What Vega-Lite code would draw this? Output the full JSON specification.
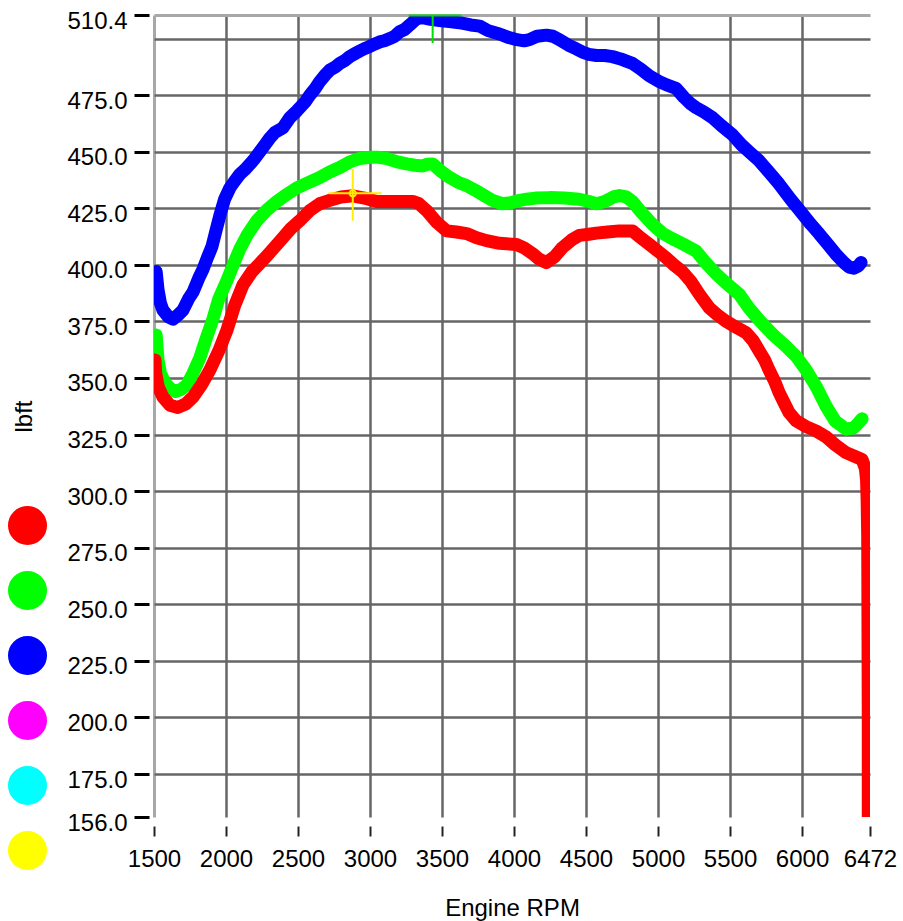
{
  "$schema": "https://vega.github.io/schema/vega-lite/v6.json",
  "width": 716,
  "height": 802,
  "autosize": {"type": "none"},
  "padding": {"left": 154, "top": 15, "right": 33, "bottom": 104},
  "background": "white",
  "config": {
    "view": {"stroke": null},
    "font": "Liberation Sans"
  },
  "datasets": {
    "curves": [
      {"run": "3", "rpm": 1515, "lbft": 397}, {"run": "3", "rpm": 1528, "lbft": 389}, {"run": "3", "rpm": 1545, "lbft": 383}, {"run": "3", "rpm": 1562, "lbft": 380}, {"run": "3", "rpm": 1600, "lbft": 377}, {"run": "3", "rpm": 1632, "lbft": 376}, {"run": "3", "rpm": 1670, "lbft": 378}, {"run": "3", "rpm": 1701, "lbft": 380}, {"run": "3", "rpm": 1740, "lbft": 385}, {"run": "3", "rpm": 1771, "lbft": 388}, {"run": "3", "rpm": 1810, "lbft": 394}, {"run": "3", "rpm": 1840, "lbft": 398}, {"run": "3", "rpm": 1870, "lbft": 403}, {"run": "3", "rpm": 1902, "lbft": 408}, {"run": "3", "rpm": 1930, "lbft": 415}, {"run": "3", "rpm": 1958, "lbft": 422}, {"run": "3", "rpm": 1990, "lbft": 429}, {"run": "3", "rpm": 2027, "lbft": 434}, {"run": "3", "rpm": 2060, "lbft": 437}, {"run": "3", "rpm": 2096, "lbft": 440}, {"run": "3", "rpm": 2130, "lbft": 442}, {"run": "3", "rpm": 2166, "lbft": 444.5}, {"run": "3", "rpm": 2200, "lbft": 447}, {"run": "3", "rpm": 2235, "lbft": 450}, {"run": "3", "rpm": 2270, "lbft": 453}, {"run": "3", "rpm": 2304, "lbft": 456}, {"run": "3", "rpm": 2340, "lbft": 458.5}, {"run": "3", "rpm": 2395, "lbft": 460.5}, {"run": "3", "rpm": 2443, "lbft": 465}, {"run": "3", "rpm": 2492, "lbft": 468}, {"run": "3", "rpm": 2550, "lbft": 472}, {"run": "3", "rpm": 2582, "lbft": 475}, {"run": "3", "rpm": 2620, "lbft": 478}, {"run": "3", "rpm": 2651, "lbft": 481}, {"run": "3", "rpm": 2690, "lbft": 484}, {"run": "3", "rpm": 2720, "lbft": 486}, {"run": "3", "rpm": 2760, "lbft": 487.5}, {"run": "3", "rpm": 2790, "lbft": 489}, {"run": "3", "rpm": 2830, "lbft": 490.5}, {"run": "3", "rpm": 2859, "lbft": 492}, {"run": "3", "rpm": 2900, "lbft": 493.5}, {"run": "3", "rpm": 2929, "lbft": 494.5}, {"run": "3", "rpm": 2960, "lbft": 495.5}, {"run": "3", "rpm": 2998, "lbft": 496.5}, {"run": "3", "rpm": 3030, "lbft": 497.5}, {"run": "3", "rpm": 3067, "lbft": 498.5}, {"run": "3", "rpm": 3100, "lbft": 499}, {"run": "3", "rpm": 3137, "lbft": 500}, {"run": "3", "rpm": 3170, "lbft": 501}, {"run": "3", "rpm": 3206, "lbft": 503}, {"run": "3", "rpm": 3240, "lbft": 504}, {"run": "3", "rpm": 3276, "lbft": 506}, {"run": "3", "rpm": 3310, "lbft": 508}, {"run": "3", "rpm": 3345, "lbft": 509.5}, {"run": "3", "rpm": 3380, "lbft": 509}, {"run": "3", "rpm": 3420, "lbft": 508.5}, {"run": "3", "rpm": 3483, "lbft": 508}, {"run": "3", "rpm": 3550, "lbft": 507.5}, {"run": "3", "rpm": 3620, "lbft": 507}, {"run": "3", "rpm": 3700, "lbft": 506}, {"run": "3", "rpm": 3761, "lbft": 505.5}, {"run": "3", "rpm": 3820, "lbft": 503.5}, {"run": "3", "rpm": 3899, "lbft": 502}, {"run": "3", "rpm": 3960, "lbft": 500.5}, {"run": "3", "rpm": 4020, "lbft": 499.5}, {"run": "3", "rpm": 4070, "lbft": 499}, {"run": "3", "rpm": 4107, "lbft": 499.5}, {"run": "3", "rpm": 4160, "lbft": 501}, {"run": "3", "rpm": 4225, "lbft": 501.5}, {"run": "3", "rpm": 4270, "lbft": 501}, {"run": "3", "rpm": 4316, "lbft": 499.5}, {"run": "3", "rpm": 4380, "lbft": 497}, {"run": "3", "rpm": 4430, "lbft": 495.5}, {"run": "3", "rpm": 4475, "lbft": 494}, {"run": "3", "rpm": 4520, "lbft": 493}, {"run": "3", "rpm": 4572, "lbft": 492.5}, {"run": "3", "rpm": 4630, "lbft": 492.5}, {"run": "3", "rpm": 4683, "lbft": 492}, {"run": "3", "rpm": 4740, "lbft": 491}, {"run": "3", "rpm": 4780, "lbft": 490}, {"run": "3", "rpm": 4822, "lbft": 489}, {"run": "3", "rpm": 4880, "lbft": 486.5}, {"run": "3", "rpm": 4940, "lbft": 483.5}, {"run": "3", "rpm": 5009, "lbft": 481}, {"run": "3", "rpm": 5060, "lbft": 479.5}, {"run": "3", "rpm": 5125, "lbft": 478}, {"run": "3", "rpm": 5180, "lbft": 474}, {"run": "3", "rpm": 5230, "lbft": 471}, {"run": "3", "rpm": 5264, "lbft": 469.5}, {"run": "3", "rpm": 5320, "lbft": 467.5}, {"run": "3", "rpm": 5379, "lbft": 465}, {"run": "3", "rpm": 5440, "lbft": 461.5}, {"run": "3", "rpm": 5517, "lbft": 457.5}, {"run": "3", "rpm": 5580, "lbft": 453}, {"run": "3", "rpm": 5640, "lbft": 449.5}, {"run": "3", "rpm": 5702, "lbft": 446}, {"run": "3", "rpm": 5770, "lbft": 441}, {"run": "3", "rpm": 5841, "lbft": 435.7}, {"run": "3", "rpm": 5920, "lbft": 429}, {"run": "3", "rpm": 6003, "lbft": 422.5}, {"run": "3", "rpm": 6060, "lbft": 418}, {"run": "3", "rpm": 6119, "lbft": 413.7}, {"run": "3", "rpm": 6180, "lbft": 409}, {"run": "3", "rpm": 6234, "lbft": 404.8}, {"run": "3", "rpm": 6290, "lbft": 401}, {"run": "3", "rpm": 6327, "lbft": 399}, {"run": "3", "rpm": 6360, "lbft": 398.5}, {"run": "3", "rpm": 6390, "lbft": 399.5}, {"run": "3", "rpm": 6410, "lbft": 401},
      {"run": "2", "rpm": 1515, "lbft": 369}, {"run": "2", "rpm": 1522, "lbft": 363}, {"run": "2", "rpm": 1528, "lbft": 358}, {"run": "2", "rpm": 1545, "lbft": 352}, {"run": "2", "rpm": 1576, "lbft": 348}, {"run": "2", "rpm": 1610, "lbft": 345.5}, {"run": "2", "rpm": 1646, "lbft": 344}, {"run": "2", "rpm": 1690, "lbft": 345}, {"run": "2", "rpm": 1729, "lbft": 347}, {"run": "2", "rpm": 1770, "lbft": 352}, {"run": "2", "rpm": 1819, "lbft": 359}, {"run": "2", "rpm": 1860, "lbft": 367}, {"run": "2", "rpm": 1909, "lbft": 376}, {"run": "2", "rpm": 1950, "lbft": 385}, {"run": "2", "rpm": 2006, "lbft": 393}, {"run": "2", "rpm": 2050, "lbft": 400}, {"run": "2", "rpm": 2096, "lbft": 407}, {"run": "2", "rpm": 2150, "lbft": 413.5}, {"run": "2", "rpm": 2214, "lbft": 419.5}, {"run": "2", "rpm": 2280, "lbft": 424}, {"run": "2", "rpm": 2353, "lbft": 428}, {"run": "2", "rpm": 2420, "lbft": 431}, {"run": "2", "rpm": 2492, "lbft": 434}, {"run": "2", "rpm": 2560, "lbft": 436}, {"run": "2", "rpm": 2651, "lbft": 438.6}, {"run": "2", "rpm": 2720, "lbft": 441}, {"run": "2", "rpm": 2790, "lbft": 443}, {"run": "2", "rpm": 2860, "lbft": 445.5}, {"run": "2", "rpm": 2929, "lbft": 447}, {"run": "2", "rpm": 3000, "lbft": 447.5}, {"run": "2", "rpm": 3060, "lbft": 447.5}, {"run": "2", "rpm": 3116, "lbft": 447}, {"run": "2", "rpm": 3190, "lbft": 445.5}, {"run": "2", "rpm": 3255, "lbft": 444.6}, {"run": "2", "rpm": 3310, "lbft": 444}, {"run": "2", "rpm": 3366, "lbft": 443.7}, {"run": "2", "rpm": 3400, "lbft": 444.5}, {"run": "2", "rpm": 3435, "lbft": 444.6}, {"run": "2", "rpm": 3490, "lbft": 441.5}, {"run": "2", "rpm": 3553, "lbft": 438.6}, {"run": "2", "rpm": 3610, "lbft": 436.5}, {"run": "2", "rpm": 3671, "lbft": 435}, {"run": "2", "rpm": 3730, "lbft": 433}, {"run": "2", "rpm": 3782, "lbft": 431}, {"run": "2", "rpm": 3850, "lbft": 428.5}, {"run": "2", "rpm": 3920, "lbft": 427}, {"run": "2", "rpm": 3980, "lbft": 427.5}, {"run": "2", "rpm": 4040, "lbft": 428.5}, {"run": "2", "rpm": 4087, "lbft": 429}, {"run": "2", "rpm": 4150, "lbft": 429.5}, {"run": "2", "rpm": 4246, "lbft": 429.7}, {"run": "2", "rpm": 4350, "lbft": 429.5}, {"run": "2", "rpm": 4454, "lbft": 429}, {"run": "2", "rpm": 4520, "lbft": 428}, {"run": "2", "rpm": 4572, "lbft": 427}, {"run": "2", "rpm": 4630, "lbft": 428}, {"run": "2", "rpm": 4690, "lbft": 430}, {"run": "2", "rpm": 4732, "lbft": 430.6}, {"run": "2", "rpm": 4780, "lbft": 430}, {"run": "2", "rpm": 4822, "lbft": 428}, {"run": "2", "rpm": 4880, "lbft": 423.5}, {"run": "2", "rpm": 4960, "lbft": 418}, {"run": "2", "rpm": 5030, "lbft": 414}, {"run": "2", "rpm": 5099, "lbft": 411.6}, {"run": "2", "rpm": 5180, "lbft": 409}, {"run": "2", "rpm": 5266, "lbft": 406}, {"run": "2", "rpm": 5330, "lbft": 401}, {"run": "2", "rpm": 5404, "lbft": 396}, {"run": "2", "rpm": 5480, "lbft": 391.5}, {"run": "2", "rpm": 5564, "lbft": 387}, {"run": "2", "rpm": 5630, "lbft": 381}, {"run": "2", "rpm": 5702, "lbft": 375.6}, {"run": "2", "rpm": 5800, "lbft": 369}, {"run": "2", "rpm": 5889, "lbft": 364}, {"run": "2", "rpm": 5960, "lbft": 359.5}, {"run": "2", "rpm": 6028, "lbft": 353.6}, {"run": "2", "rpm": 6100, "lbft": 346}, {"run": "2", "rpm": 6167, "lbft": 337.5}, {"run": "2", "rpm": 6230, "lbft": 331}, {"run": "2", "rpm": 6306, "lbft": 327.4}, {"run": "2", "rpm": 6360, "lbft": 328}, {"run": "2", "rpm": 6390, "lbft": 330}, {"run": "2", "rpm": 6417, "lbft": 332},
      {"run": "1", "rpm": 1507, "lbft": 358}, {"run": "1", "rpm": 1512, "lbft": 352}, {"run": "1", "rpm": 1530, "lbft": 346}, {"run": "1", "rpm": 1562, "lbft": 341.6}, {"run": "1", "rpm": 1610, "lbft": 338}, {"run": "1", "rpm": 1666, "lbft": 337}, {"run": "1", "rpm": 1720, "lbft": 338.5}, {"run": "1", "rpm": 1771, "lbft": 341.6}, {"run": "1", "rpm": 1830, "lbft": 347}, {"run": "1", "rpm": 1888, "lbft": 353.5}, {"run": "1", "rpm": 1950, "lbft": 362}, {"run": "1", "rpm": 2006, "lbft": 371}, {"run": "1", "rpm": 2060, "lbft": 382}, {"run": "1", "rpm": 2117, "lbft": 391}, {"run": "1", "rpm": 2180, "lbft": 397}, {"run": "1", "rpm": 2235, "lbft": 400.6}, {"run": "1", "rpm": 2284, "lbft": 404}, {"run": "1", "rpm": 2340, "lbft": 408}, {"run": "1", "rpm": 2395, "lbft": 412}, {"run": "1", "rpm": 2450, "lbft": 416}, {"run": "1", "rpm": 2512, "lbft": 419.5}, {"run": "1", "rpm": 2582, "lbft": 424}, {"run": "1", "rpm": 2650, "lbft": 427}, {"run": "1", "rpm": 2720, "lbft": 428.5}, {"run": "1", "rpm": 2800, "lbft": 430}, {"run": "1", "rpm": 2880, "lbft": 430.5}, {"run": "1", "rpm": 2960, "lbft": 429.5}, {"run": "1", "rpm": 3046, "lbft": 428}, {"run": "1", "rpm": 3150, "lbft": 428}, {"run": "1", "rpm": 3296, "lbft": 428}, {"run": "1", "rpm": 3340, "lbft": 427}, {"run": "1", "rpm": 3393, "lbft": 424}, {"run": "1", "rpm": 3460, "lbft": 419}, {"run": "1", "rpm": 3532, "lbft": 415}, {"run": "1", "rpm": 3600, "lbft": 414.5}, {"run": "1", "rpm": 3671, "lbft": 413.8}, {"run": "1", "rpm": 3740, "lbft": 412}, {"run": "1", "rpm": 3809, "lbft": 410.7}, {"run": "1", "rpm": 3900, "lbft": 409.5}, {"run": "1", "rpm": 4017, "lbft": 409}, {"run": "1", "rpm": 4070, "lbft": 407.5}, {"run": "1", "rpm": 4128, "lbft": 405}, {"run": "1", "rpm": 4175, "lbft": 402.5}, {"run": "1", "rpm": 4225, "lbft": 401}, {"run": "1", "rpm": 4280, "lbft": 403.5}, {"run": "1", "rpm": 4336, "lbft": 407.6}, {"run": "1", "rpm": 4400, "lbft": 411}, {"run": "1", "rpm": 4454, "lbft": 413}, {"run": "1", "rpm": 4520, "lbft": 413.5}, {"run": "1", "rpm": 4572, "lbft": 414}, {"run": "1", "rpm": 4650, "lbft": 414.5}, {"run": "1", "rpm": 4732, "lbft": 415}, {"run": "1", "rpm": 4780, "lbft": 415}, {"run": "1", "rpm": 4822, "lbft": 415}, {"run": "1", "rpm": 4880, "lbft": 412}, {"run": "1", "rpm": 4940, "lbft": 409}, {"run": "1", "rpm": 5000, "lbft": 406}, {"run": "1", "rpm": 5058, "lbft": 403}, {"run": "1", "rpm": 5110, "lbft": 400}, {"run": "1", "rpm": 5169, "lbft": 397}, {"run": "1", "rpm": 5230, "lbft": 392.5}, {"run": "1", "rpm": 5287, "lbft": 387}, {"run": "1", "rpm": 5356, "lbft": 381}, {"run": "1", "rpm": 5410, "lbft": 378}, {"run": "1", "rpm": 5474, "lbft": 375}, {"run": "1", "rpm": 5540, "lbft": 372.5}, {"run": "1", "rpm": 5612, "lbft": 370}, {"run": "1", "rpm": 5660, "lbft": 366.5}, {"run": "1", "rpm": 5702, "lbft": 362}, {"run": "1", "rpm": 5740, "lbft": 358}, {"run": "1", "rpm": 5771, "lbft": 353.6}, {"run": "1", "rpm": 5810, "lbft": 348.5}, {"run": "1", "rpm": 5841, "lbft": 343.5}, {"run": "1", "rpm": 5880, "lbft": 338.5}, {"run": "1", "rpm": 5910, "lbft": 334.7}, {"run": "1", "rpm": 5960, "lbft": 331}, {"run": "1", "rpm": 6028, "lbft": 328.5}, {"run": "1", "rpm": 6100, "lbft": 326.5}, {"run": "1", "rpm": 6167, "lbft": 324}, {"run": "1", "rpm": 6230, "lbft": 320.5}, {"run": "1", "rpm": 6306, "lbft": 317}, {"run": "1", "rpm": 6360, "lbft": 315.5}, {"run": "1", "rpm": 6417, "lbft": 314}, {"run": "1", "rpm": 6440, "lbft": 310}, {"run": "1", "rpm": 6448, "lbft": 305}, {"run": "1", "rpm": 6452, "lbft": 296.5}, {"run": "1", "rpm": 6456, "lbft": 280}, {"run": "1", "rpm": 6458, "lbft": 240}, {"run": "1", "rpm": 6460, "lbft": 200}, {"run": "1", "rpm": 6460, "lbft": 150}
    ],
    "yellowCursor": [{"rpm": 2880, "lbft": 431.6, "rpmLo": 2713, "rpmHi": 3081, "lbftLo": 419.5, "lbftHi": 442.4}],
    "greenCursor": [{"rpm": 3435, "lbft": 510.2, "rpmLo": 3268, "rpmHi": 3636, "lbftLo": 498, "lbftHi": 510.4}]
  },
  "layer": [
    {
      "data": {"name": "curves"},
      "mark": {"type": "line", "strokeWidth": 13, "strokeCap": "round", "strokeJoin": "round", "clip": true},
      "encoding": {
        "x": {
          "field": "rpm", "type": "quantitative",
          "scale": {"domain": [1500, 6472], "nice": false, "zero": false},
          "axis": {
            "values": [1500, 2000, 2500, 3000, 3500, 4000, 4500, 5000, 5500, 6000, 6472],
            "format": "d",
            "grid": true,
            "gridColor": {"condition": {"test": "datum.value == 1500", "value": "#a8a8a8"}, "value": "#666666"},
            "gridWidth": {"condition": {"test": "datum.value == 1500", "value": 3}, "value": 2.5},
            "gridOpacity": {"condition": {"test": "datum.value == 6472", "value": 0}, "value": 1},
            "domain": false,
            "offset": 9,
            "tickSize": 10,
            "tickWidth": 2,
            "tickColor": "#222222",
            "labelFont": "Liberation Sans",
            "labelFontSize": 24,
            "labelColor": "#000000",
            "labelPadding": 11,
            "labelFlush": false,
            "labelOverlap": false,
            "title": "Engine RPM",
            "titleFont": "Liberation Sans",
            "titleFontSize": 24,
            "titleFontWeight": "normal",
            "titleColor": "#000000",
            "titlePadding": 25
          }
        },
        "y": {
          "field": "lbft", "type": "quantitative",
          "scale": {"domain": [156, 510.4], "nice": false, "zero": false},
          "axis": {
            "values": [156, 175, 200, 225, 250, 275, 300, 325, 350, 375, 400, 425, 450, 475, 500, 510.4],
            "labelExpr": "datum.value == 500 ? '' : format(datum.value, '.1f')",
            "grid": true,
            "gridColor": {"condition": {"test": "datum.value == 510.4", "value": "#a8a8a8"}, "value": "#666666"},
            "gridWidth": {"condition": {"test": "datum.value == 510.4", "value": 3}, "value": 2.5},
            "gridOpacity": {"condition": {"test": "datum.value == 156", "value": 0}, "value": 1},
            "domain": false,
            "offset": 5,
            "tickSize": 15,
            "tickWidth": 3,
            "tickColor": "#000000",
            "tickOpacity": {"condition": {"test": "datum.value == 500", "value": 0}, "value": 1},
            "labelFont": "Liberation Sans",
            "labelFontSize": 24,
            "labelColor": "#000000",
            "labelPadding": 7,
            "labelBaseline": "middle",
            "labelOffset": 6,
            "labelFlush": false,
            "labelOverlap": false,
            "title": "lbft",
            "titleFont": "Liberation Sans",
            "titleFontSize": 24,
            "titleFontWeight": "normal",
            "titleColor": "#000000",
            "titlePadding": 30
          }
        },
        "color": {
          "field": "run", "type": "nominal",
          "scale": {"domain": ["1", "2", "3", "4", "5", "6"], "range": ["#ff0000", "#00ff00", "#0000ff", "#ff00ff", "#00ffff", "#ffff00"]},
          "legend": {
            "orient": "none",
            "legendX": -146,
            "legendY": 491,
            "direction": "vertical",
            "title": null,
            "symbolType": "circle",
            "symbolSize": 1296,
            "symbolStrokeWidth": 3,
            "symbolStrokeColor": "#999999",
            "labelExpr": "''",
            "labelFontSize": 1,
            "labelLimit": 1,
            "rowPadding": 16,
            "padding": 0,
            "symbolOffset": 0,
            "encode": {
              "symbols": {
                "update": {
                  "fill": {"scale": "color", "field": "value"},
                  "stroke": {"value": "#999999"},
                  "strokeWidth": {"value": 3},
                  "opacity": {"value": 1},
                  "fillOpacity": {"value": 1}
                }
              }
            }
          }
        }
      }
    },
    {
      "data": {"name": "yellowCursor"},
      "mark": {"type": "rule", "color": "#ffee00", "strokeWidth": 2},
      "encoding": {"x": {"field": "rpmLo", "type": "quantitative"}, "x2": {"field": "rpmHi"}, "y": {"field": "lbft", "type": "quantitative"}}
    },
    {
      "data": {"name": "yellowCursor"},
      "mark": {"type": "rule", "color": "#ffee00", "strokeWidth": 2},
      "encoding": {"x": {"field": "rpm", "type": "quantitative"}, "y": {"field": "lbftLo", "type": "quantitative"}, "y2": {"field": "lbftHi"}}
    },
    {
      "data": {"name": "yellowCursor"},
      "mark": {"type": "point", "color": "#ffee00", "strokeWidth": 2, "size": 40, "opacity": 1, "filled": false},
      "encoding": {"x": {"field": "rpm", "type": "quantitative"}, "y": {"field": "lbft", "type": "quantitative"}}
    },
    {
      "data": {"name": "greenCursor"},
      "mark": {"type": "rule", "color": "#00e000", "strokeWidth": 2},
      "encoding": {"x": {"field": "rpmLo", "type": "quantitative"}, "x2": {"field": "rpmHi"}, "y": {"field": "lbft", "type": "quantitative"}}
    },
    {
      "data": {"name": "greenCursor"},
      "mark": {"type": "rule", "color": "#00e000", "strokeWidth": 2},
      "encoding": {"x": {"field": "rpm", "type": "quantitative"}, "y": {"field": "lbftLo", "type": "quantitative"}, "y2": {"field": "lbftHi"}}
    }
  ]
}
